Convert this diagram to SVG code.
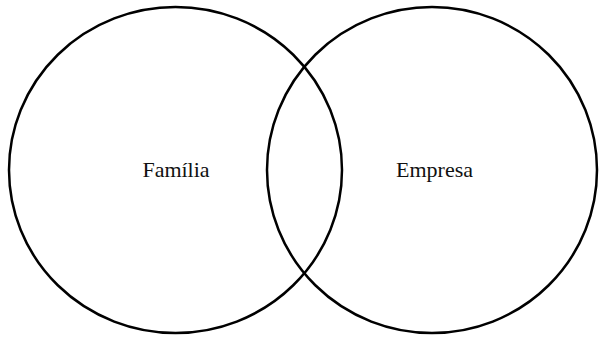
<svg xmlns="http://www.w3.org/2000/svg" width="600" height="338" viewBox="0 0 600 338">
<style>
.c{fill:none;stroke:#000;stroke-width:2.5}
.t{font-family:"Liberation Serif","Times New Roman",serif;font-size:22px;fill:#111;text-anchor:middle}
</style>
<rect width="600" height="338" fill="#fff"/>
<g id="familia">
<ellipse class="c" cx="175.5" cy="170" rx="166.5" ry="163"/>
<text class="t" x="176" y="177">Família</text>
</g>
<g id="empresa">
<ellipse class="c" cx="432" cy="170" rx="165" ry="163"/>
<text class="t" x="434.5" y="177">Empresa</text>
</g>
<g id="connectors"></g>
</svg>
